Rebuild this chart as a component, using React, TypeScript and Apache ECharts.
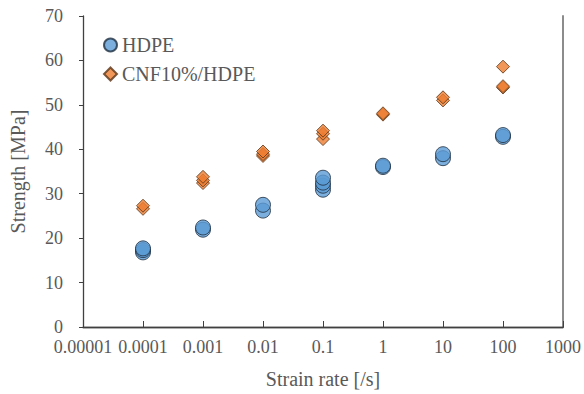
import React, { useEffect, useRef } from "react";
import * as echarts from "echarts";

const xTickLabels = ["0.00001", "0.0001", "0.001", "0.01", "0.1", "1", "10", "100", "1000"];

const hdpeRates = [0.0001, 0.0001, 0.0001, 0.001, 0.001, 0.01, 0.01, 0.1, 0.1, 0.1, 0.1, 1, 1, 10, 10, 100, 100];
const hdpeStrength = [16.8, 17.3, 17.7, 21.9, 22.4, 26.2, 27.5, 30.9, 31.8, 32.5, 33.6, 36.0, 36.3, 38.0, 38.9, 42.8, 43.2];

const cnfRates = [0.0001, 0.0001, 0.001, 0.001, 0.001, 0.01, 0.01, 0.01, 0.1, 0.1, 0.1, 1, 1, 10, 10, 100, 100, 100];
const cnfStrength = [26.6, 27.3, 32.4, 33.0, 33.8, 38.5, 38.9, 39.5, 42.3, 43.5, 44.2, 47.8, 48.1, 51.0, 51.7, 53.9, 54.2, 58.6];

const seriesNames = ["HDPE", "CNF10%/HDPE"];
const xName = "Strain rate [/s]";
const yName = "Strength [MPa]";

const font = "Liberation Serif";
const textColor = "#595959";

function pairs(xs: number[], ys: number[]) {
  return xs.map((x, i) => [x, ys[i]]);
}

export default function App() {
  const ref = useRef<HTMLDivElement>(null);
  useEffect(() => {
    if (!ref.current) return;
    document.body.style.margin = "0";
    const chart = echarts.init(ref.current, undefined, { renderer: "svg" });
    const fmt = (v: number) => {
      const k = Math.round(Math.log10(v)) + 5;
      return xTickLabels[k] ?? String(v);
    };
    chart.setOption({
      animation: false,
      backgroundColor: "#ffffff",
      textStyle: { fontFamily: font },
      grid: { left: 83, right: 21, top: 16, bottom: 65 },
      legend: {
        orient: "vertical",
        left: 103,
        top: 35,
        padding: 0,
        itemGap: 9,
        itemWidth: 13,
        itemHeight: 13,
        textStyle: { fontFamily: font, fontSize: 20, color: textColor },
        data: [
          { name: seriesNames[0], icon: "circle" },
          { name: seriesNames[1], icon: "diamond" },
        ],
      },
      xAxis: [
        {
          type: "log",
          logBase: 10,
          min: 0.00001,
          max: 1000,
          name: xName,
          nameLocation: "middle",
          nameGap: 42,
          nameTextStyle: { fontFamily: font, fontSize: 20, color: textColor },
          axisLine: { lineStyle: { color: "#595959", width: 1.3 } },
          axisTick: { inside: true, length: 6, lineStyle: { color: "#404040" } },
          axisLabel: { formatter: fmt, fontFamily: font, fontSize: 18, color: textColor, margin: 11 },
          splitLine: { show: false },
          minorTick: { show: false },
        },
        {
          type: "log",
          min: 0.00001,
          max: 1000,
          position: "top",
          axisLine: { show: true, lineStyle: { color: "#404040", width: 1.3 } },
          axisTick: { show: false },
          axisLabel: { show: false },
          splitLine: { show: false },
        },
      ],
      yAxis: [
        {
          type: "value",
          min: 0,
          max: 70,
          interval: 10,
          name: yName,
          nameLocation: "middle",
          nameGap: 55,
          nameTextStyle: { fontFamily: font, fontSize: 20, color: textColor },
          axisLine: { show: true, lineStyle: { color: "#404040", width: 1.3 } },
          axisTick: { show: true, length: 4, lineStyle: { color: "#404040" } },
          axisLabel: { fontFamily: font, fontSize: 18, color: textColor, margin: 20 },
          splitLine: { show: false },
        },
        {
          type: "value",
          min: 0,
          max: 70,
          position: "right",
          axisLine: { show: true, lineStyle: { color: "#8c8c8c", width: 2 } },
          axisTick: { show: false },
          axisLabel: { show: false },
          splitLine: { show: false },
        },
      ],
      series: [
        {
          name: seriesNames[0],
          type: "scatter",
          symbol: "circle",
          symbolSize: 15,
          itemStyle: { color: "#5B9BD5", borderColor: "#1f2f40", borderWidth: 1 },
          data: pairs(hdpeRates, hdpeStrength),
          z: 3,
        },
        {
          name: seriesNames[1],
          type: "scatter",
          symbol: "diamond",
          symbolSize: 13,
          itemStyle: { color: "#ED7D31", borderColor: "#5a3418", borderWidth: 1 },
          data: pairs(cnfRates, cnfStrength),
          z: 4,
        },
      ],
    });
    return () => chart.dispose();
  }, []);
  return <div ref={ref} style={{ width: 584, height: 394 }} />;
}
